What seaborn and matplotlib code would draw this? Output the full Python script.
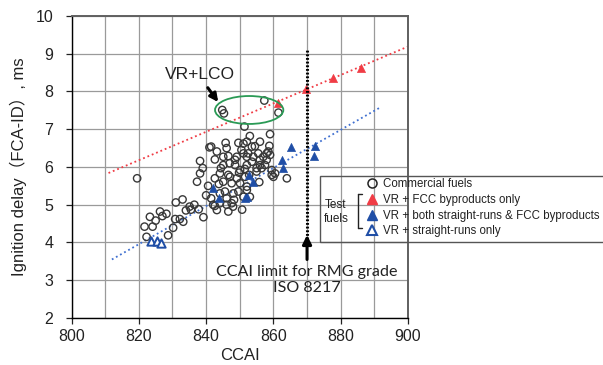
import matplotlib
matplotlib.use("Agg")
import matplotlib.pyplot as plt
import seaborn as sns
import numpy as np
import pandas as pd
from matplotlib.patches import Ellipse, Rectangle
from matplotlib.lines import Line2D
from matplotlib.ticker import MultipleLocator

# ---------------- data ----------------
commercial_x = [819.5, 821.7, 822.3, 823.3, 824.1, 825.0, 826.3, 828.2, 828.7, 830.2,
                830.8, 831.0, 832.2, 833.0, 833.2, 835.1, 835.5, 837.3, 837.8, 838.2,
                838.2, 839.0, 839.2, 840.6, 841.0, 841.5, 841.5, 842.1, 842.6, 842.6,
                842.6, 843.2, 843.2, 844.1, 844.1, 844.1, 844.4, 844.8, 845.3, 845.1,
                845.1, 845.1, 845.6, 845.8, 846.1, 846.1, 846.1, 846.6, 846.6, 846.6,
                847.1, 847.6, 847.6, 848.1, 848.3, 848.6, 848.6, 849.1, 849.1, 849.6,
                849.6, 850.1, 850.1, 850.7, 851.1, 851.1, 851.1, 851.5, 851.4, 851.6,
                852.1, 852.1, 852.1, 852.1, 852.1, 852.5, 852.8, 853.0, 853.0, 853.6,
                853.6, 854.0, 855.0, 855.0, 855.5, 856.0, 856.0, 856.0, 856.5, 857.0,
                857.3, 858.0, 858.0, 858.5, 858.8, 859.0, 859.0, 859.5, 859.5, 860.0,
                860.5, 861.5, 864.0, 847.0, 850.5, 854.5, 857.5, 843.8, 848.0, 836.5,
                834.0, 840.0, 827.0, 849.8, 855.8]
commercial_y = [5.70, 4.42, 4.15, 4.68, 4.42, 4.58, 4.82, 4.76, 4.19, 4.39,
                4.62, 5.06, 4.62, 5.14, 4.55, 4.95, 4.87, 5.61, 4.88, 5.83,
                6.16, 5.97, 4.67, 5.50, 6.52, 6.54, 5.17, 5.00, 4.97, 5.70,
                6.20, 6.41, 4.86, 5.83, 5.30, 5.04, 5.97, 7.51, 7.42, 6.27,
                6.05, 5.61, 5.35, 6.64, 6.50, 5.00, 5.17, 6.29, 5.79, 4.82,
                5.74, 5.04, 5.57, 5.30, 5.13, 6.19, 6.05, 5.70, 6.27, 6.64,
                5.35, 5.57, 5.92, 4.87, 6.62, 6.36, 5.21, 5.95, 7.07, 5.74,
                6.67, 6.27, 6.05, 5.48, 5.39, 6.36, 5.79, 6.82, 5.21, 6.54,
                6.14, 6.27, 5.97, 5.88, 6.36, 6.67, 6.19, 6.05, 5.97, 6.27,
                7.76, 6.36, 6.19, 6.41, 6.56, 6.87, 6.32, 5.79, 5.92, 5.74,
                5.83, 7.44, 5.70, 6.10, 6.45, 6.55, 6.05, 5.55, 4.95, 5.00,
                4.85, 5.25, 4.70, 5.85, 5.60]

fcc_x = [861.3, 869.7, 877.6, 885.9]
fcc_y = [7.70, 8.06, 8.35, 8.61]

both_x = [842.1, 843.8, 851.6, 852.2, 852.6, 853.8, 862.7, 862.8, 865.2, 872.0, 872.5]
both_y = [5.44, 5.19, 5.19, 5.21, 5.79, 5.59, 6.19, 5.98, 6.52, 6.29, 6.56]

sr_x = [823.6, 825.5, 826.5]
sr_y = [4.05, 4.04, 3.98]

red_trend_x = [811, 900]
red_trend_y = [5.84, 9.19]
blue_trend_x = [812, 892]
blue_trend_y = [3.55, 7.59]

ccai_limit = 870
limit_y = [4.1, 9.1]

legend_labels = ["Commercial fuels", "VR + FCC byproducts only",
                 "VR + both straight-runs & FCC byproducts", "VR + straight-runs only"]

# ---------------- style ----------------
sns.set_theme(style="white")
plt.rcParams['font.family'] = ['Liberation Sans', 'Noto Sans CJK JP', 'DejaVu Sans']

RED = "#f03c45"
BLUE = "#1f4ea6"
BLUE_LINE = "#3f6fd0"
CIRC = "#383838"

fig = plt.figure(figsize=(6.03, 3.65), dpi=100)
ax = fig.add_axes([0.1186, 0.1288, 0.558, 0.8274])

# trend lines
sns.lineplot(x=red_trend_x, y=red_trend_y, ax=ax, color=RED, lw=1.3,
             linestyle=(0, (1, 1.6)), zorder=2)
sns.lineplot(x=blue_trend_x, y=blue_trend_y, ax=ax, color=BLUE_LINE, lw=1.3,
             linestyle=(0, (1, 1.6)), zorder=2)

# scatter
sns.scatterplot(x=commercial_x, y=commercial_y, ax=ax, marker='o', s=28,
                facecolor='none', edgecolor=CIRC, linewidth=1.0, zorder=3)
sns.scatterplot(x=fcc_x, y=fcc_y, ax=ax, marker='^', s=34, color=RED,
                edgecolor=RED, linewidth=0.5, zorder=4)
sns.scatterplot(x=both_x, y=both_y, ax=ax, marker='^', s=34, color=BLUE,
                edgecolor=BLUE, linewidth=0.5, zorder=4)
sns.scatterplot(x=sr_x, y=sr_y, ax=ax, marker='^', s=36, facecolor='white',
                edgecolor=BLUE, linewidth=1.4, zorder=4)

# CCAI limit line
ax.plot([ccai_limit, ccai_limit], limit_y, color='black', lw=2.2,
        linestyle=(0, (0.6, 0.6)), zorder=5)
ax.annotate('', xy=(ccai_limit, 4.2), xytext=(ccai_limit, 3.55),
            arrowprops=dict(arrowstyle='-|>', color='black', lw=2.2,
                            mutation_scale=13, shrinkA=0, shrinkB=0), zorder=6)
ax.text(ccai_limit, 3.01, "CCAI limit for RMG grade\nISO 8217", ha='center',
        va='center', fontsize=11.6, family=['Lato', 'DejaVu Sans'],
        linespacing=1.2, color='#222222', zorder=6)

# VR+LCO annotation
ax.add_patch(Ellipse((852.8, 7.51), 20.3, 0.74, edgecolor='#2a9a55',
                     facecolor='none', lw=1.3, zorder=5))
ax.text(838.2, 8.46, "VR+LCO", ha='center', va='center', fontsize=12.5,
        color='#222222')
ax.annotate('', xy=(843.6, 7.72), xytext=(840.5, 8.1),
            arrowprops=dict(arrowstyle='-|>', color='black', lw=2.2,
                            mutation_scale=12, shrinkA=0, shrinkB=0))

# axes
ax.set_xlim(800, 900)
ax.set_ylim(2, 10)
ax.xaxis.set_major_locator(MultipleLocator(20))
ax.xaxis.set_minor_locator(MultipleLocator(10))
ax.yaxis.set_major_locator(MultipleLocator(1))
ax.grid(which='both', axis='x', color='#9a9a9a', lw=0.9)
ax.grid(which='major', axis='y', color='#9a9a9a', lw=0.9)
ax.set_axisbelow(True)
ax.tick_params(axis='both', which='major', direction='out', length=4, width=0.9,
               labelsize=11.5, colors='#222222', bottom=True, left=True)
ax.tick_params(axis='x', which='major', pad=4)
ax.tick_params(axis='y', which='major', pad=9)
ax.tick_params(axis='x', which='minor', length=0)
for s in ['left', 'bottom']:
    ax.spines[s].set_color('black')
    ax.spines[s].set_linewidth(1.0)
for s in ['top', 'right']:
    ax.spines[s].set_color('#606060')
    ax.spines[s].set_linewidth(1.4)

ax.set_xlabel("CCAI", fontsize=12, color='#222222', labelpad=3)
ax.set_ylabel("Ignition delay（FCA-ID）, ms", fontsize=12, color='#222222',
              labelpad=6)

# legend
handles = [
    Line2D([], [], ls='none', marker='o', markersize=6.5, markerfacecolor='none',
           markeredgecolor='#222222', markeredgewidth=1.1),
    Line2D([], [], ls='none', marker='^', markersize=7.5, color=RED),
    Line2D([], [], ls='none', marker='^', markersize=7.5, color=BLUE),
    Line2D([], [], ls='none', marker='^', markersize=7.5, markerfacecolor='white',
           markeredgecolor=BLUE, markeredgewidth=1.5),
]
leg = ax.legend(handles, legend_labels, loc='upper left',
                bbox_to_anchor=(366 / 603, 1 - 178 / 365),
                bbox_transform=fig.transFigure, frameon=False, fontsize=8.3,
                borderpad=0, borderaxespad=0, handlelength=1.05,
                handletextpad=0.45, labelspacing=0.33)
for t in leg.get_texts():
    t.set_color('#222222')

fig.patches.append(Rectangle((320 / 603, 1 - 242 / 365), 300 / 603, 66 / 365,
                             transform=fig.transFigure, facecolor='none',
                             edgecolor='#555555', lw=1.0, clip_on=False))
fig.text(336 / 603, 1 - 212 / 365, "Test\nfuels", ha='center', va='center',
         fontsize=8.5, color='#222222', linespacing=1.25)
bx = 358 / 603
fig.lines.append(Line2D([bx, bx], [1 - 194 / 365, 1 - 228 / 365],
                        transform=fig.transFigure, color='#222222', lw=1.0))
fig.lines.append(Line2D([bx, bx + 4 / 603], [1 - 194 / 365, 1 - 194 / 365],
                        transform=fig.transFigure, color='#222222', lw=1.0))
fig.lines.append(Line2D([bx, bx + 4 / 603], [1 - 228 / 365, 1 - 228 / 365],
                        transform=fig.transFigure, color='#222222', lw=1.0))

fig.savefig("out.png", dpi=100, facecolor='white')
